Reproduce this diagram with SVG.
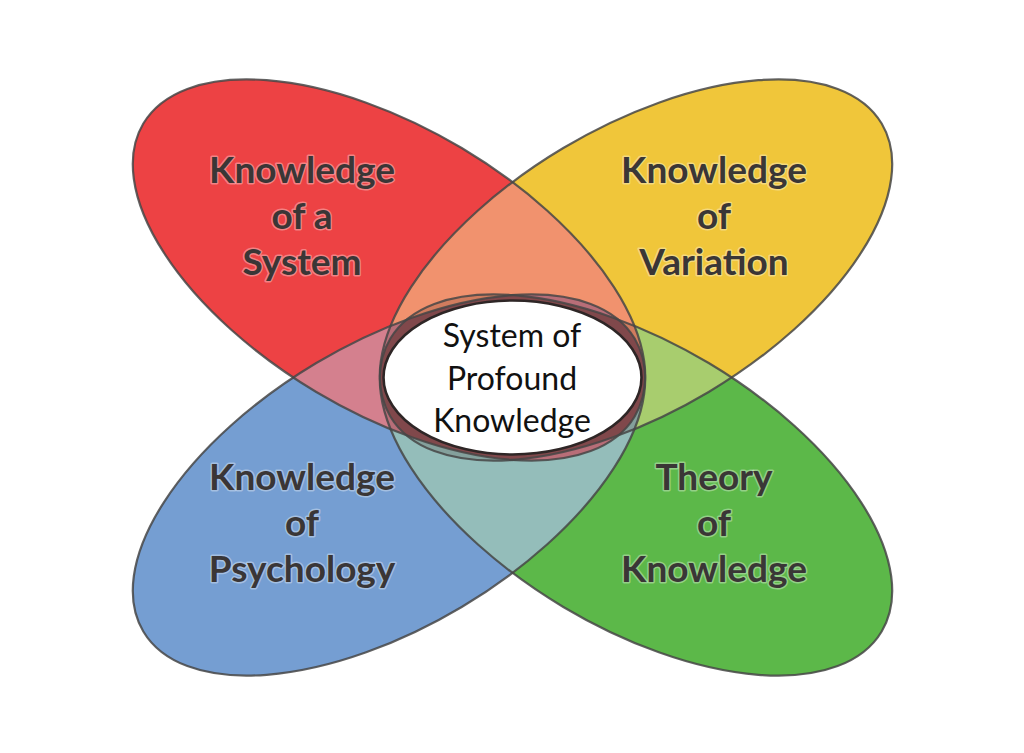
<svg xmlns="http://www.w3.org/2000/svg" xmlns:xlink="http://www.w3.org/1999/xlink" width="1024" height="753" viewBox="0 0 1024 753">
<style>
.lbl{font-family:Lato,"Noto Sans","Liberation Sans",sans-serif;font-weight:700;font-size:37px;fill:#3a3636;text-anchor:middle;stroke:rgba(255,255,255,0.35);stroke-width:3;paint-order:stroke;stroke-linejoin:round}
.ctr{font-family:Lato,"Noto Sans","Liberation Sans",sans-serif;font-weight:400;font-size:32px;fill:#111;text-anchor:middle}
.edge{fill:none;stroke:#464646;stroke-opacity:0.85;stroke-width:2.2}
</style>
<defs>
<ellipse id="pR" cx="389" cy="270" rx="286" ry="142" transform="rotate(30.8 389 270)"/>
<ellipse id="pY" cx="636" cy="270" rx="286" ry="142" transform="rotate(-30.8 636 270)"/>
<ellipse id="pB" cx="389" cy="485" rx="286" ry="142" transform="rotate(-30.8 389 485)"/>
<ellipse id="pG" cx="636" cy="485" rx="286" ry="142" transform="rotate(30.8 636 485)"/>
<clipPath id="cR"><use xlink:href="#pR"/></clipPath>
<clipPath id="cY"><use xlink:href="#pY"/></clipPath>
<clipPath id="cB"><use xlink:href="#pB"/></clipPath>
<clipPath id="cG"><use xlink:href="#pG"/></clipPath>
</defs>
<rect width="1024" height="753" fill="#fff"/>
<g id="petals">
<use xlink:href="#pR" fill="#ED4244"/>
<use xlink:href="#pY" fill="#F0C63A"/>
<use xlink:href="#pB" fill="#759ED2"/>
<use xlink:href="#pG" fill="#5CB849"/>
<g clip-path="url(#cY)"><use xlink:href="#pG" fill="#A8CD6E"/></g>
<g clip-path="url(#cB)"><use xlink:href="#pG" fill="#94BDBA"/></g>
<g clip-path="url(#cR)"><use xlink:href="#pY" fill="#F1926E"/></g>
<g clip-path="url(#cR)"><use xlink:href="#pB" fill="#D4808E"/></g>
<g clip-path="url(#cR)"><g clip-path="url(#cY)"><use xlink:href="#pG" fill="#3c1c14" fill-opacity="0.18"/></g></g>
<g clip-path="url(#cR)"><g clip-path="url(#cY)"><use xlink:href="#pB" fill="#3c1c14" fill-opacity="0.18"/></g></g>
<g clip-path="url(#cR)"><g clip-path="url(#cB)"><use xlink:href="#pG" fill="#3c1c14" fill-opacity="0.18"/></g></g>
<g clip-path="url(#cY)"><g clip-path="url(#cB)"><use xlink:href="#pG" fill="#3c1c14" fill-opacity="0.18"/></g></g>
</g>
<g id="center">
<ellipse cx="512.5" cy="377.5" rx="129" ry="77" fill="#fff" stroke="#2e2626" stroke-width="2.6"/>
</g>
<g id="connectors">
<use xlink:href="#pR" class="edge"/>
<use xlink:href="#pY" class="edge"/>
<use xlink:href="#pB" class="edge"/>
<use xlink:href="#pG" class="edge"/>
</g>
<g id="node-system">
<text class="lbl" x="302" y="183">Knowledge</text>
<text class="lbl" x="302" y="229">of a</text>
<text class="lbl" x="302" y="275">System</text>
</g>
<g id="node-variation">
<text class="lbl" x="714" y="183">Knowledge</text>
<text class="lbl" x="714" y="229">of</text>
<text class="lbl" x="714" y="275">Variation</text>
</g>
<g id="node-psychology">
<text class="lbl" x="302" y="490">Knowledge</text>
<text class="lbl" x="302" y="536">of</text>
<text class="lbl" x="302" y="582">Psychology</text>
</g>
<g id="node-theory">
<text class="lbl" x="714" y="490">Theory</text>
<text class="lbl" x="714" y="536">of</text>
<text class="lbl" x="714" y="582">Knowledge</text>
</g>
<g id="node-profound">
<text class="ctr" x="512" y="347">System of</text>
<text class="ctr" x="512" y="390">Profound</text>
<text class="ctr" x="512" y="432">Knowledge</text>
</g>
</svg>
